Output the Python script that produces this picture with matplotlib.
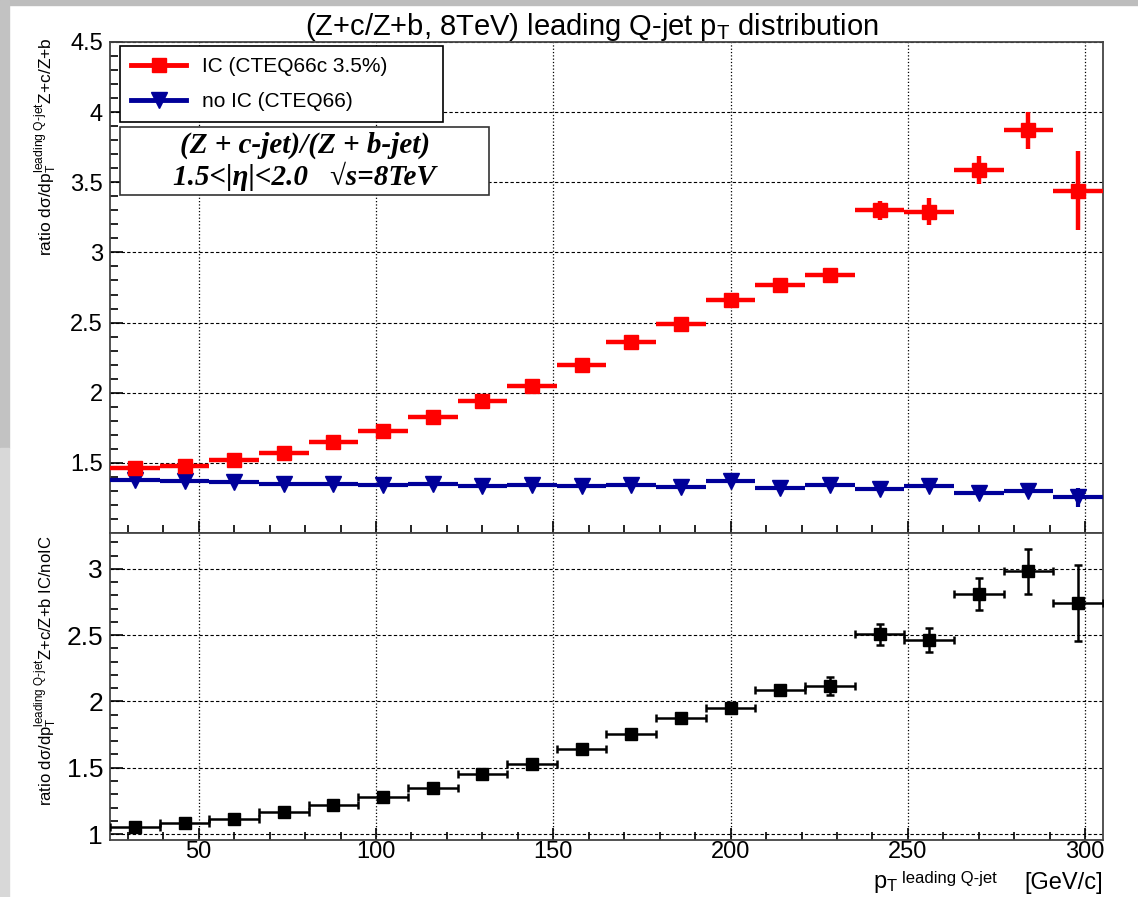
import matplotlib.pyplot as plt
from matplotlib.lines import Line2D
from matplotlib.patches import Rectangle
from matplotlib.ticker import MultipleLocator, FuncFormatter

# bins of leading Q-jet pT (GeV/c), 14 GeV wide
pt_centers = [32, 46, 60, 74, 88, 102, 116, 130, 144, 158,
              172, 186, 200, 214, 228, 242, 256, 270, 284, 298]
pt_halfwidth = 7

# Z+c / Z+b with intrinsic charm (CTEQ66c 3.5%)
ic_ratio = [1.46, 1.48, 1.52, 1.57, 1.65, 1.73, 1.83, 1.94, 2.05, 2.20,
            2.36, 2.49, 2.66, 2.77, 2.84, 3.30, 3.29, 3.59, 3.87, 3.44]
ic_err = [0.01, 0.01, 0.01, 0.01, 0.01, 0.012, 0.012, 0.015, 0.015, 0.018,
          0.02, 0.02, 0.02, 0.025, 0.05, 0.07, 0.095, 0.10, 0.13, 0.28]

# Z+c / Z+b without intrinsic charm (CTEQ66)
noic_ratio = [1.375, 1.37, 1.36, 1.348, 1.35, 1.344, 1.346, 1.337, 1.343, 1.332,
              1.340, 1.331, 1.371, 1.324, 1.340, 1.317, 1.336, 1.282, 1.298, 1.254]
noic_err = [0.004, 0.004, 0.004, 0.004, 0.004, 0.005, 0.005, 0.005, 0.005, 0.006,
            0.006, 0.007, 0.008, 0.008, 0.01, 0.012, 0.015, 0.018, 0.025, 0.07]

# IC / noIC
double_ratio = [1.057, 1.082, 1.117, 1.164, 1.216, 1.279, 1.351, 1.450, 1.530, 1.644,
                1.756, 1.876, 1.953, 2.090, 2.117, 2.505, 2.463, 2.810, 2.980, 2.740]
double_err = [0.008, 0.008, 0.008, 0.01, 0.01, 0.01, 0.012, 0.012, 0.015, 0.015,
              0.018, 0.02, 0.02, 0.02, 0.065, 0.078, 0.09, 0.12, 0.17, 0.285]

plt.rcParams['font.family'] = ['Liberation Sans', 'DejaVu Sans']
plt.rcParams['mathtext.fontset'] = 'custom'
plt.rcParams['mathtext.rm'] = 'Liberation Sans'
plt.rcParams['mathtext.it'] = 'Liberation Sans'

fig = plt.figure(figsize=(11.38, 8.97), dpi=100)

# grey frame strips like the original canvas
fig.patches.append(Rectangle((0, 0.994), 1, 0.006, transform=fig.transFigure,
                             color='#bdbdbd', zorder=0))
fig.patches.append(Rectangle((0, 0.5), 0.0075, 0.5, transform=fig.transFigure,
                             color='#c2c2c2', zorder=0))
fig.patches.append(Rectangle((0, 0), 0.0075, 0.5, transform=fig.transFigure,
                             color='#d8d8d8', zorder=0))

ax_top = fig.add_axes([0.0967, 0.4058, 0.8725, 0.5474])
ax_bot = fig.add_axes([0.0967, 0.0635, 0.8725, 0.3423])

# --- upper pad ---
ax_top.errorbar(pt_centers, ic_ratio, xerr=pt_halfwidth, yerr=ic_err, fmt='s',
                color='red', ms=10, elinewidth=3.2, capsize=0, zorder=4)
ax_top.errorbar(pt_centers, noic_ratio, xerr=pt_halfwidth, yerr=noic_err, fmt='v',
                color='#000099', ms=11, elinewidth=3, capsize=0, zorder=3)

# --- lower pad ---
ax_bot.errorbar(pt_centers, double_ratio, xerr=pt_halfwidth, yerr=double_err, fmt='s',
                color='black', ms=9, elinewidth=1.8, capsize=3, capthick=1.8, zorder=3)

for ax in (ax_top, ax_bot):
    ax.set_xlim(25, 305)
    ax.xaxis.set_major_locator(MultipleLocator(50))
    ax.xaxis.set_minor_locator(MultipleLocator(10))
    ax.yaxis.set_major_locator(MultipleLocator(0.5))
    ax.yaxis.set_minor_locator(MultipleLocator(0.1))
    ax.yaxis.set_major_formatter(FuncFormatter(lambda v, p: f'{v:g}'))
    ax.tick_params(which='both', direction='in', top=False, right=False, width=1.2)
    ax.tick_params(which='major', length=9)
    ax.tick_params(which='minor', length=6)
    ax.grid(True, axis='x', color='black', linestyle=':', linewidth=0.9)
    ax.grid(True, axis='y', color='black', linestyle=(0, (3, 2)), linewidth=0.8)
    ax.set_axisbelow(True)
    for sp in ax.spines.values():
        sp.set_color('#444444')
        sp.set_linewidth(1.3)

ax_top.set_ylim(1.0, 4.5)
ax_top.tick_params(axis='x', labelbottom=False)
ax_top.tick_params(axis='y', labelsize=17, pad=5)
ax_top.yaxis.set_major_formatter(FuncFormatter(lambda v, p: '' if v < 1.2 else f'{v:g}'))

ax_bot.set_ylim(0.955, 3.27)
ax_bot.tick_params(axis='y', labelsize=19, pad=5)
ax_bot.tick_params(axis='x', labelsize=17, pad=0.5)

# legend
handles = [Line2D([], [], color='red', lw=3.5, marker='s', ms=10),
           Line2D([], [], color='#000099', lw=3.5, marker='v', ms=11)]
leg = ax_top.legend(handles, ['IC (CTEQ66c 3.5%)', 'no IC (CTEQ66)'],
                    loc='upper left', bbox_to_anchor=(0.01, 0.992, 0.325, 0.0),
                    mode='expand', fontsize=15, frameon=True, fancybox=False,
                    edgecolor='black', framealpha=1, handlelength=2.6,
                    borderpad=0.55, labelspacing=0.75, borderaxespad=0)
leg.get_frame().set_linewidth(1.2)

# process text box
ax_top.add_patch(Rectangle((0.010, 0.688), 0.372, 0.139, transform=ax_top.transAxes,
                           facecolor='white', edgecolor='#333333', linewidth=1.2, zorder=5))
ax_top.text(0.196, 0.790, '(Z + c-jet)/(Z + b-jet)', transform=ax_top.transAxes,
            ha='center', va='center', fontsize=21, fontweight='bold', fontstyle='italic',
            family=['Liberation Serif', 'DejaVu Serif'], zorder=6)
ax_top.text(0.196, 0.727, '1.5<|η|<2.0   √s=8TeV', transform=ax_top.transAxes,
            ha='center', va='center', fontsize=21, fontweight='bold', fontstyle='italic',
            family=['Liberation Serif', 'DejaVu Serif'], zorder=6)

# axis titles
fig.text(0.04, 0.958, r'ratio d$\sigma$/dp$_{T}^{\text{leading Q-jet}}$Z+c/Z+b',
         rotation=90, ha='center', va='top', fontsize=12.5)
fig.text(0.04, 0.403, r'ratio d$\sigma$/dp$_{T}^{\text{leading Q-jet}}$Z+c/Z+b IC/noIC',
         rotation=90, ha='center', va='top', fontsize=12)

# x title: p_T^{leading Q-jet} [GeV/c], pieces placed like the ROOT layout
fig.text(0.9692, 0.0090, '[GeV/c]', ha='right', va='baseline', fontsize=17)
fig.text(0.876, 0.0155, 'leading Q-jet', ha='right', va='baseline', fontsize=12)
fig.text(0.7671, 0.0100, r'p$_{\mathregular{T}}$', ha='left', va='baseline', fontsize=17)

fig.text(0.52, 0.988, r'(Z+c/Z+b, 8TeV) leading Q-jet p$_{T}$ distribution',
         ha='center', va='top', fontsize=21)

fig.savefig('out.png', dpi=100)
